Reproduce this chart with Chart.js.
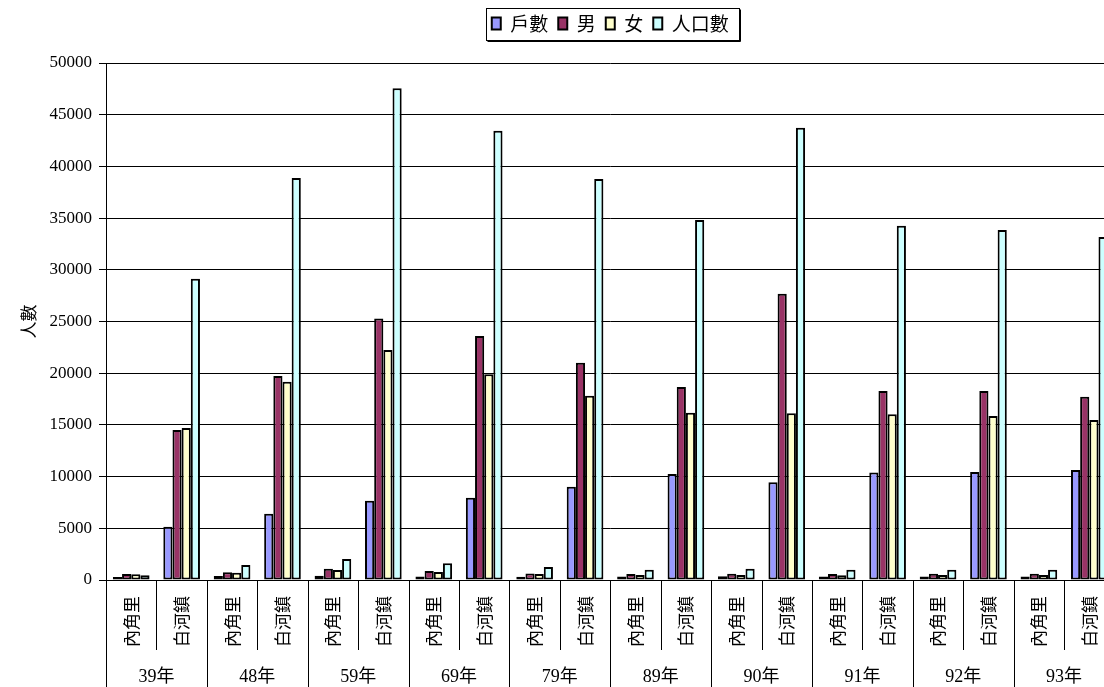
<!DOCTYPE html>
<html>
<head>
<meta charset="utf-8">
<script src="https://cdn.jsdelivr.net/npm/chart.js@4"></script>
<style>
  html, body { margin: 0; padding: 0; background: #fff; overflow: hidden; }
  #wrap { position: relative; width: 1126px; height: 687px; }
</style>
</head>
<body>
<div id="wrap"><canvas id="popChart"></canvas></div>
<script>
// ================= DATA =================
const years = ["39年", "48年", "59年", "69年", "79年", "89年", "90年", "91年", "92年", "93年"];
const places = ["內角里", "白河鎮"];

// one value per category: 內角里, 白河鎮 for each year in turn
const households = [290, 5150, 390, 6400, 420, 7670, 350, 7960, 320, 9020,
                    350, 10250, 355, 9450, 350, 10400, 350, 10450, 350, 10650];
const males = [580, 14510, 740, 19730, 1100, 25300, 870, 23600, 640, 21020,
               580, 18670, 610, 27690, 580, 18280, 610, 18280, 610, 17730];
const females = [560, 14700, 710, 19180, 970, 22240, 770, 19890, 580, 17820,
                 480, 16180, 480, 16120, 450, 16020, 480, 15860, 480, 15470];
const population = [450, 29140, 1450, 38880, 2030, 47550, 1610, 43450, 1260, 38780,
                    1000, 34820, 1095, 43750, 1000, 34270, 1000, 33850, 1000, 33170];

const yTicks = { min: 0, max: 50000, step: 5000 };

const labels = [];
years.forEach(() => places.forEach(p => labels.push(p)));

// ================= PLUGINS =================
// extra room under the legend so the plot starts lower
const legendSpace = {
  id: "legendSpace",
  beforeInit(chart) {
    const lg = chart.legend;
    const fit = lg.fit;
    lg.fit = function () {
      fit.call(this);
      this.height += 20;
    };
  }
};

// legend frame, category dividers and the year row
const groupAxis = {
  id: "groupAxis",
  afterDraw(chart) {
    const c = chart.ctx;
    const x = chart.scales.x;
    const half = (x.getPixelForValue(1) - x.getPixelForValue(0)) / 2;
    const axisY = x.top;

    c.save();
    c.strokeStyle = "#000";
    c.lineWidth = 1;
    for (let i = 0; i <= labels.length; i++) {
      const px = Math.round(x.getPixelForValue(i) - half) + 0.5;
      const end = i % 2 === 0 ? chart.height : axisY + 70;
      c.beginPath();
      c.moveTo(px, axisY);
      c.lineTo(px, end);
      c.stroke();
    }

    c.fillStyle = "#000";
    c.font = '18px "Liberation Serif", "Noto Sans CJK TC"';
    c.textAlign = "center";
    c.textBaseline = "middle";
    years.forEach((yr, j) => {
      const cx = (x.getPixelForValue(2 * j) + x.getPixelForValue(2 * j + 1)) / 2;
      c.fillText(yr, cx, 677);
    });

    // legend frame
    const boxes = chart.legend.legendHitBoxes;
    if (boxes && boxes.length) {
      let l = Infinity, r = -Infinity, t = Infinity, b = -Infinity;
      boxes.forEach(hb => {
        l = Math.min(l, hb.left);
        r = Math.max(r, hb.left + hb.width);
        t = Math.min(t, hb.top);
        b = Math.max(b, hb.top + hb.height);
      });
      const fl = Math.round(l - 6) + 0.5;
      const fr = Math.round(r + 10) + 0.5;
      const ft = Math.round(t - 6) + 0.5;
      const fb = Math.round(b + 7) + 0.5;
      c.strokeRect(fl, ft, fr - fl, fb - ft);
      c.beginPath();
      c.moveTo(fl + 1, fb + 1);
      c.lineTo(fr + 1, fb + 1);
      c.lineTo(fr + 1, ft + 1);
      c.stroke();
    }
    c.restore();
  }
};

// ================= CHART =================
function series(label, data, color) {
  return {
    label: label,
    data: data,
    backgroundColor: color,
    borderColor: "#000",
    borderWidth: 2,
    borderSkipped: false,
    categoryPercentage: 0.727,
    barPercentage: 1.0
  };
}

const ctx = document.getElementById("popChart");

new Chart(ctx, {
  type: "bar",
  data: {
    labels: labels,
    datasets: [
      series("戶數", households, "#9999FF"),
      series("男", males, "#993366"),
      series("女", females, "#FFFFCC"),
      series("人口數", population, "#CCFFFF")
    ]
  },
  options: {
    responsive: true,
    maintainAspectRatio: false,
    animation: false,
    layout: { padding: { top: 4, right: 4, left: 0, bottom: 0 } },
    plugins: {
      tooltip: { enabled: false },
      legend: {
        position: "top",
        fullSize: false,
        labels: {
          color: "#000",
          font: { family: "Noto Sans CJK TC", size: 19 },
          boxWidth: 9,
          boxHeight: 12,
          padding: 10
        }
      }
    },
    scales: {
      x: {
        grid: { display: false, drawOnChartArea: false, drawTicks: false },
        border: { display: true, color: "#000", width: 1 },
        ticks: {
          color: "#000",
          font: { family: "Noto Sans CJK TC", size: 17 },
          minRotation: 90,
          maxRotation: 90,
          autoSkip: false,
          padding: 16
        },
        afterFit(scale) { scale.height = 107; }
      },
      y: {
        min: yTicks.min,
        max: yTicks.max,
        grid: { color: "#000", lineWidth: 1, tickLength: 7 },
        border: { display: true, color: "#000", width: 1 },
        ticks: {
          stepSize: yTicks.step,
          color: "#000",
          font: { family: "Liberation Serif", size: 17 },
          padding: 7,
          callback: v => String(v)
        },
        title: {
          display: true,
          text: "人數",
          color: "#000",
          font: { family: "Noto Sans CJK TC", size: 17 },
          padding: { top: 18, bottom: 0 }
        },
        afterFit(scale) { scale.width = 106; }
      }
    }
  },
  plugins: [legendSpace, groupAxis]
});
</script>
</body>
</html>
